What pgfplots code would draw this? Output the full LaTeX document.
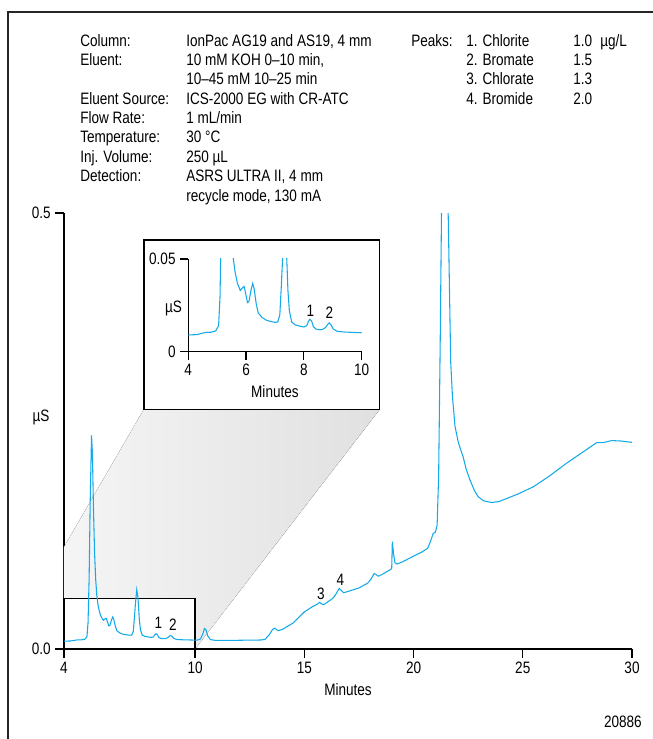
\documentclass[border=0pt]{standalone}
\usepackage{fontspec}
\setmainfont{Liberation Sans}[FakeStretch=0.82]
\usepackage{pgfplots}
\usepackage{pgfplotstable}
\pgfplotsset{compat=1.18}
\definecolor{trace}{RGB}{20,170,232}
\newcommand\infofont{\fontsize{12.4pt}{14pt}\selectfont}

\pgfplotstableread{
t y
4.00 0.0090
4.30 0.0092
4.50 0.0100
4.60 0.0104
4.80 0.0105
4.95 0.0112
5.05 0.0140
5.10 0.030
5.15 0.080
5.20 0.170
5.26 0.245
5.30 0.225
5.35 0.160
5.40 0.110
5.45 0.080
5.50 0.062
5.56 0.050
5.62 0.043
5.70 0.037
5.80 0.033
5.88 0.0345
5.93 0.0352
5.98 0.032
6.05 0.0265
6.10 0.027
6.17 0.033
6.23 0.0368
6.28 0.034
6.35 0.026
6.42 0.021
6.55 0.0185
6.70 0.017
6.85 0.0163
7.00 0.0158
7.10 0.016
7.17 0.020
7.22 0.035
7.27 0.052
7.33 0.068
7.38 0.060
7.41 0.050
7.45 0.033
7.50 0.022
7.58 0.0160
7.70 0.0145
7.85 0.0138
8.00 0.0133
8.10 0.0140
8.16 0.0163
8.21 0.0175
8.27 0.0165
8.33 0.0135
8.42 0.0122
8.55 0.0118
8.65 0.0120
8.75 0.0130
8.83 0.0148
8.88 0.0155
8.94 0.0145
9.02 0.0122
9.15 0.0110
9.40 0.0106
9.70 0.0104
10.00 0.0102
10.10 0.0102
10.25 0.0115
10.35 0.017
10.43 0.0235
10.50 0.022
10.58 0.015
10.70 0.0108
10.90 0.0100
11.50 0.0098
12.00 0.0100
12.50 0.0102
13.00 0.0103
13.20 0.0110
13.40 0.0165
13.55 0.0225
13.65 0.0238
13.80 0.0210
14.00 0.0225
14.50 0.0300
15.00 0.0425
15.40 0.0490
15.60 0.0515
15.70 0.0535
15.80 0.0515
15.90 0.0510
16.10 0.0545
16.30 0.0580
16.45 0.0630
16.60 0.0696
16.70 0.0670
16.80 0.0645
17.00 0.0660
17.50 0.0700
17.90 0.0755
18.05 0.0800
18.20 0.0867
18.30 0.0850
18.40 0.0835
18.60 0.0860
18.90 0.0905
19.00 0.0920
19.03 0.1230
19.08 0.1100
19.15 0.0990
19.25 0.0975
19.50 0.1000
20.00 0.1065
20.40 0.1115
20.65 0.1155
20.80 0.1250
20.90 0.1325
21.00 0.1340
21.08 0.1420
21.15 0.2000
21.22 0.3500
21.30 0.5500
21.45 0.6500
21.55 0.5500
21.62 0.4500
21.70 0.3300
21.78 0.2900
21.90 0.2550
22.05 0.2370
22.15 0.2290
22.27 0.2205
22.40 0.2070
22.58 0.1940
22.80 0.1810
22.96 0.1747
23.20 0.1700
23.57 0.1680
23.90 0.1690
24.26 0.1725
24.80 0.1780
25.48 0.1860
26.20 0.1980
27.00 0.2130
27.70 0.2250
28.38 0.2366
28.70 0.2368
29.07 0.2390
29.50 0.2385
30.00 0.2370
}\chrom

\begin{document}
\begin{tikzpicture}
\begin{scope}[x=0.75pt,y=-0.75pt,shift={(-64,-649)}]
\useasboundingbox (0,0) rectangle (653,739);
\draw[line width=1pt, black!85] (8,739) -- (8,12) -- (653,12);
\end{scope}

\begin{axis}[
  at={(0,0)}, anchor=south west,
  scale only axis, width=426pt, height=327pt,
  xmin=4, xmax=30, ymin=0, ymax=0.5,
  axis lines*=left,
  axis line style={line width=1.1pt},
  every tick/.style={black, line width=1pt},
  tick align=outside, major tick length=6.4pt,
  xtick={4,10,15,20,25,30}, xticklabels={4,10,15,20,25,30},
  ytick={0,0.5}, yticklabels={0.0,0.5},
  ticklabel style={font=\infofont},
  xlabel={Minutes}, xlabel style={font=\infofont},
  clip mode=individual,
]
\fill[left color=gray!8, right color=gray!24] (axis cs:4,0) -- (axis cs:4,0.117) -- (axis cs:7.66,0.275) -- (axis cs:18.46,0.275) -- (axis cs:10,0) -- cycle;
\draw[fill=white, line width=0.9pt] (axis cs:4,0) rectangle (axis cs:10,0.058);
\draw[fill=white, line width=0.9pt] (axis cs:7.66,0.275) rectangle (axis cs:18.46,0.469);
\addplot[trace, line width=0.8pt] table {\chrom};
\end{axis}

\begin{axis}[
  at={(93.2pt,223pt)}, anchor=south west,
  scale only axis, width=130pt, height=69.5pt,
  xmin=4, xmax=10, ymin=0, ymax=0.05,
  axis lines*=left,
  axis line style={line width=1pt},
  every tick/.style={black, line width=0.9pt},
  tick align=outside, major tick length=6pt,
  scaled y ticks=false,
  xtick={4,6,8,10}, xticklabels={4,6,8,10},
  ytick={0,0.05}, yticklabels={0,0.05},
  ticklabel style={font=\infofont},
  xlabel={Minutes}, xlabel style={font=\infofont},
]
\addplot[trace, line width=0.8pt] table {\chrom};
\end{axis}

\begin{scope}[x=0.75pt,y=-0.75pt,shift={(-64,-649)}]
\tikzset{lab/.style={font=\infofont, inner sep=0pt, anchor=base west}}
% info block
\node[lab] at (80,47) {Column:};
\node[lab] at (80,66) {Eluent:};
\node[lab] at (80,105) {Eluent Source:};
\node[lab] at (80,124) {Flow Rate:};
\node[lab] at (80,143) {Temperature:};
\node[lab] at (80,163) {Inj. Volume:};
\node[lab] at (80,182) {Detection:};
\node[lab] at (186,47) {IonPac AG19 and AS19, 4 mm};
\node[lab] at (186,66) {10 mM KOH 0–10 min,};
\node[lab] at (186,85) {10–45 mM 10–25 min};
\node[lab] at (186,105) {ICS-2000 EG with CR-ATC};
\node[lab] at (186,124) {1 mL/min};
\node[lab] at (186,143) {30 °C};
\node[lab] at (186,163) {250 µL};
\node[lab] at (186,182) {ASRS ULTRA II, 4 mm};
\node[lab] at (186,202) {recycle mode, 130 mA};
\node[lab] at (411,47) {Peaks:};
\node[lab] at (466,47) {1. Chlorite};
\node[lab] at (466,66) {2. Bromate};
\node[lab] at (466,85) {3. Chlorate};
\node[lab] at (466,105) {4. Bromide};
\node[lab] at (573,47) {1.0};
\node[lab] at (573,66) {1.5};
\node[lab] at (573,85) {1.3};
\node[lab] at (573,105) {2.0};
\node[lab] at (600,47) {µg/L};
% axis labels
\node[font=\infofont, inner sep=0pt] at (41,417) {µS};
\node[font=\infofont, inner sep=0pt] at (173.5,308) {µS};
% peak labels
\node[font=\infofont, inner sep=0pt] at (158.5,623) {1};
\node[font=\infofont, inner sep=0pt] at (173,625) {2};
\node[font=\infofont, inner sep=0pt] at (321,594) {3};
\node[font=\infofont, inner sep=0pt] at (340.5,579.5) {4};
\node[font=\infofont, inner sep=0pt] at (310.5,311.3) {1};
\node[font=\infofont, inner sep=0pt] at (329.5,313) {2};
\node[font=\infofont, inner sep=0pt, anchor=base east] at (642,727.5) {20886};
\end{scope}
\end{tikzpicture}
\end{document}
